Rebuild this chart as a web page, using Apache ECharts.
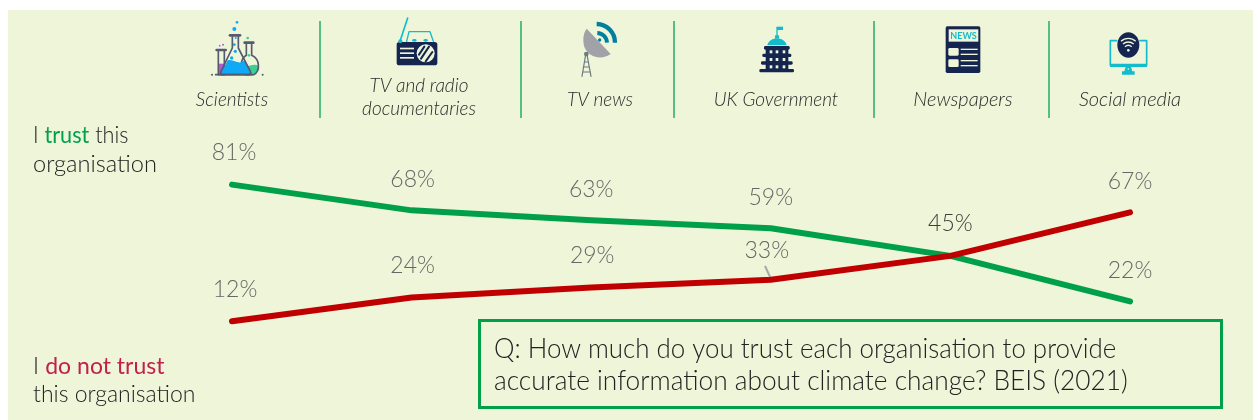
<!DOCTYPE html>
<html>
<head>
<meta charset="utf-8">
<title>Trust in organisations on climate change</title>
<style>html,body{margin:0;padding:0;background:#fff}#chart{width:1253px;height:420px}</style>
<script src="https://cdn.jsdelivr.net/npm/echarts@6/dist/echarts.min.js"></script>
</head>
<body>
<div id="chart"></div>
<script>
// Survey results, percent of respondents
const categories = ['Scientists', 'TV and radio\ndocumentaries', 'TV news', 'UK Government', 'Newspapers', 'Social media'];
const trust = [81, 68, 63, 59, 45, 22];
const noTrust = [12, 24, 29, 33, 45, 67];

// Header layout
const headerCentres = [232, 419, 600, 776, 963, 1130];
const headerMiddles = [100, 97, 100, 100, 100, 100];
const headerSizes = [19, 19, 19, 19, 20, 20];
const dividers = [320, 521, 674, 874, 1049];

const FONT = 'Lato, "Open Sans", sans-serif';
const PAPER = '#eff5d9', NAVY = '#14264f', CYAN = '#12bccb', TEAL = '#007f9e';
const GREEN = '#00a04b', RED = '#c00000';

// Small icon helpers; coordinates are on a 210-unit icon canvas drawn at one third scale
let pathCount = 0;
const circle = (cx, cy, r, fill) => ({type: 'circle', shape: {cx, cy, r}, style: {fill}});
const box = (x, y, width, height, fill, r) => ({type: 'rect', shape: {x, y, width, height, r: r || 0}, style: {fill}});
const path = (pathData, style) => {
  const type = 'iconPath' + pathCount++;
  echarts.graphic.registerShape(type, echarts.graphic.extendPath(pathData, {}));
  return {type, style: Object.assign({fill: 'none'}, style)};
};
const stroke = (d, colour, w) => path(d, {stroke: colour, lineWidth: w, lineCap: 'round', lineJoin: 'round'});
const icon = (x, y, children) => ({type: 'group', x, y, scaleX: 1 / 3, scaleY: 1 / 3, children});

const GLASS = '#565a6e', SKY = '#0fa9f5', MINT = '#3ccf94', VIOLET = '#b45cd6';
const flasks = icon(205, 12, [
  circle(96, 31, 4, SKY), circle(88, 51, 6, SKY), circle(92, 78, 3, SKY), circle(88, 98, 4, SKY), circle(91, 118, 5, SKY), circle(80, 138, 5, SKY),
  circle(128, 78, 4, MINT), circle(132, 130, 4, MINT), circle(44, 101, 2.5, VIOLET), circle(54, 98, 3, VIOLET),
  box(40, 155, 17, 33, VIOLET),
  stroke('M40 118V188H58V118', GLASS, 5), stroke('M35 114H62', GLASS, 8),
  path('M116 160C126 170 140 152 160 160C162 176 150 188 135 188H116Z', {fill: MINT}),
  stroke('M124 96V130C104 142 104 178 122 188H146C166 178 166 142 140 130V96', GLASS, 5), stroke('M119 92H145', GLASS, 8),
  path('M68 145C85 138 100 162 118 145L136 180C138 184 136 187 132 187H56C50 187 48 184 50 180Z', {fill: SKY}),
  stroke('M82 74V108L48 178C45 184 48 188 54 188H130C136 188 139 184 136 178L100 108V74', GLASS, 5), stroke('M75 70H105', GLASS, 8),
  stroke('M32 188H140', GLASS, 5), circle(21, 188, 3, GLASS), circle(173, 188, 3, GLASS)
]);

const radio = icon(385, 12, [
  stroke('M68 18L45 88', CYAN, 5), stroke('M65 88L72 59H135L145 88', CYAN, 4),
  box(35, 90, 122, 70, NAVY, 8), circle(46, 88, 6, CYAN),
  {type: 'ellipse', shape: {cx: 88, cy: 85, rx: 7, ry: 4}, style: {fill: CYAN}},
  {type: 'ellipse', shape: {cx: 122, cy: 85, rx: 7, ry: 4}, style: {fill: CYAN}},
  box(45, 107, 42, 5, PAPER), box(45, 121, 42, 5, PAPER), box(45, 135, 42, 5, PAPER),
  circle(122, 124, 27, PAPER),
  stroke('M102 128L118 104M108 140L132 104M122 148L142 120', NAVY, 6)
]);

const dish = icon(565, 12, [
  path('M65 50L137 126C110 146 70 136 58 104C52 84 55 64 65 50Z', {fill: '#a0a2a8'}),
  path('M95 36A56 56 0 0 1 150 92', {stroke: TEAL, lineWidth: 13}),
  path('M97 63A30 30 0 0 1 126 92', {stroke: TEAL, lineWidth: 12}),
  circle(104, 84, 5, TEAL),
  circle(64, 126, 7, '#6b7a80'),
  stroke('M62 128L51 193M66 128L78 193M58 150H70M55 165H73M53 180H76', '#6b7a80', 3.5)
]);

const capitol = icon(745, 12, [
  stroke('M96 46V72', CYAN, 4), box(96, 44, 18, 10, CYAN), box(90, 70, 12, 9, CYAN),
  path('M67 100C70 86 84 79 96 79C108 79 122 86 125 100Z', {fill: CYAN}),
  box(62, 108, 68, 68, NAVY),
  box(57, 102, 77, 11, NAVY, 4), box(52, 125, 87, 10, NAVY, 4), box(48, 148, 95, 10, NAVY, 4), box(43, 171, 104, 10, NAVY, 4),
  ...[115, 138, 160].flatMap(y => [74, 92, 113].map(x => box(x, y, 8, 9, PAPER)))
]);

const paper = icon(930, 12, [
  box(47, 43, 104, 140, NAVY, 5), box(56, 52, 89, 37, PAPER),
  {type: 'text', style: {x: 100.5, y: 71, text: 'NEWS', fill: CYAN, font: 'bold 27px ' + FONT, align: 'center', verticalAlign: 'middle'}},
  box(55, 108, 31, 23, PAPER, 4), box(55, 142, 31, 23, PAPER, 4),
  box(92, 110, 51, 4, PAPER), box(92, 125, 51, 4, PAPER), box(92, 144, 51, 4, PAPER), box(92, 159, 51, 4, PAPER)
]);

const screen = icon(1095, 12, [
  stroke('M65 86H46V160H155V86H135', CYAN, 5), box(45, 155, 111, 10, CYAN),
  path('M92 164H108L112 178H119V188H81V178H88Z', {fill: CYAN}), circle(100, 171, 2.5, PAPER),
  {type: 'ellipse', shape: {cx: 100, cy: 99, rx: 33, ry: 38}, style: {fill: NAVY}},
  path('M78 88C90 76 110 76 122 88', {stroke: PAPER, lineWidth: 4}),
  path('M84 96C93 88 107 88 116 96', {stroke: PAPER, lineWidth: 4}),
  path('M90 104C96 99 104 99 110 104', {stroke: PAPER, lineWidth: 4}),
  circle(100, 115, 4, PAPER)
]);

const headerLabels = categories.map((name, i) => ({
  type: 'text', x: headerCentres[i], y: headerMiddles[i],
  style: {text: name, fill: '#2a2a2a', font: 'italic 300 ' + headerSizes[i] + 'px ' + FONT, align: 'center', verticalAlign: 'middle', lineHeight: 23}
}));

const dividerLines = dividers.map(x => ({
  type: 'line', shape: {x1: x, y1: 21, x2: x, y2: 118}, style: {stroke: GREEN, lineWidth: 1.5, opacity: 0.85}
}));

const sideNotes = [
  {y: 136, squeeze: 0.94, text: '{k|I }{g|trust}{k| this}'},
  {y: 165, squeeze: 1.025, text: '{k|organisation}'},
  {y: 367, squeeze: 1, text: '{k|I }{r|do not trust}'},
  {y: 395, squeeze: 1, text: '{k|this organisation}'}
].map(n => ({
  type: 'text', x: 33, y: n.y, scaleX: n.squeeze,
  style: {
    text: n.text, align: 'left', verticalAlign: 'middle',
    rich: {
      k: {fill: '#222', font: '300 23px ' + FONT},
      g: {fill: GREEN, font: '400 23px ' + FONT},
      r: {fill: '#c21f4b', font: '400 23px ' + FONT}
    }
  }
}));

const questionBox = {
  type: 'rect', shape: {x: 479.5, y: 320.5, width: 742, height: 87}, style: {fill: 'none', stroke: GREEN, lineWidth: 3}
};
const questionScales = [0.925, 0.938];
const questionLines = ['Q: How much do you trust each organisation to provide', 'accurate information about climate change? BEIS (2021)'].map((text, i) => ({
  type: 'text', x: 494, y: 349 + i * 32, scaleX: questionScales[i],
  style: {text, fill: '#222', font: '300 28px ' + FONT, align: 'left', verticalAlign: 'middle'}
}));

// Per-point tweaks to the value labels, so they clear the lines
const trustShift = [[2, -1], [1, 0], [0, 0], [0, 0], [0, 0], [0, 0]];
const noTrustShift = [[3, -1], [1, -1], [1, -1], [-4, 2], [0, -1], [0, 0]];

const seriesData = (values, hideAt) => values.map((value, i) => ({
  value,
  label: {show: i !== hideAt, color: i === 4 ? '#3d3d3d' : '#666666'}
}));

const lineSeries = (name, values, shift, colour, hideAt) => ({
  type: 'line', name, data: seriesData(values, hideAt),
  showSymbol: true, symbol: 'circle', symbolSize: 1, smooth: false, silent: true,
  itemStyle: {color: colour},
  lineStyle: {color: colour, width: 6, cap: 'round', join: 'round'},
  label: {show: true, position: 'top', distance: 19, formatter: p => p.value + '%', fontFamily: FONT, fontWeight: 300, fontSize: 23},
  labelLayout: p => ({dx: shift[p.dataIndex][0], dy: shift[p.dataIndex][1], hideOverlap: false})
});

const chart = echarts.init(document.getElementById('chart'), null, {renderer: 'canvas'});
chart.setOption({
  animation: false,
  backgroundColor: '#ffffff',
  grid: {left: 232, right: 123, top: 147, height: 198},
  xAxis: {type: 'category', data: categories, boundaryGap: false, show: false},
  yAxis: {type: 'value', min: 0, max: 100, show: false},
  series: [
    lineSeries('I trust this organisation', trust, trustShift, GREEN, 4),
    lineSeries('I do not trust this organisation', noTrust, noTrustShift, RED, -1)
  ],
  graphic: {elements: [
    {type: 'group', z: -10, silent: true, children: [
      {type: 'rect', shape: {x: 8, y: 10, width: 1245, height: 410}, style: {fill: PAPER}}
    ]},
    {type: 'group', silent: true, children: [
      flasks, radio, dish, capitol, paper, screen,
      ...headerLabels, ...dividerLines, ...sideNotes, questionBox, ...questionLines,
      {type: 'line', shape: {x1: 765, y1: 266, x2: 771, y2: 279}, style: {stroke: '#a8a8a8', lineWidth: 2}}
    ]}
  ]}
});
</script>
</body>
</html>
